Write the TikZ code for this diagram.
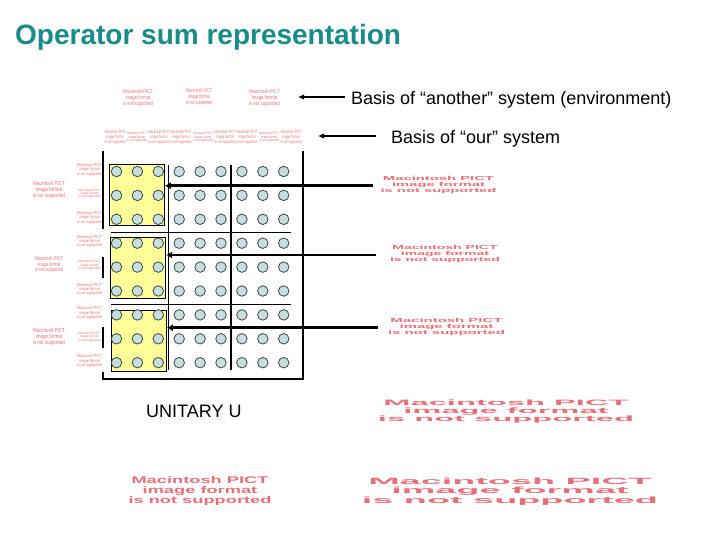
\documentclass[tikz,border=0pt]{standalone}
\usepackage{fontspec}
\setmainfont{Liberation Sans}
\usepackage{graphicx}
\usetikzlibrary{arrows.meta}
\definecolor{titleteal}{RGB}{24,140,138}
\definecolor{pictred}{RGB}{232,110,120}
\definecolor{dotfill}{RGB}{198,222,222}
\definecolor{dotline}{RGB}{60,72,72}
\definecolor{boxyellow}{RGB}{255,255,153}
\newcommand{\picttext}{\begin{tabular}{@{}c@{}}Macintosh PICT\\image format\\is not supported\end{tabular}}
\newcommand{\pictfit}[2]{\resizebox*{#1}{#2}{\picttext}}
\renewcommand{\arraystretch}{0.85}
\begin{document}
\begin{tikzpicture}[x=1pt,y=-1pt,
  pict/.style={inner sep=0pt, text=pictred, font=\bfseries},
  pictthin/.style={inner sep=0pt, text=pictred},
  dot/.style={circle, draw=dotline, fill=dotfill, line width=0.8pt, minimum size=10.5pt, inner sep=0pt},
  ybox/.style={draw=black, fill=boxyellow, line width=1pt, minimum width=55pt, minimum height=61pt, inner sep=0pt},
  gridline/.style={line width=1.05pt},
  bigarrow/.style={line width=2.7pt, -{Latex[length=6pt,width=7pt]}},
  basisarrow/.style={line width=1.6pt, -{Latex[length=6pt,width=5.5pt]}},
  basislabel/.style={font=\fontsize{18}{20}\selectfont, anchor=base west, inner sep=0pt}]
\useasboundingbox (0,0) rectangle (720,540);

% title
\node[anchor=base west, inner sep=0pt, text=titleteal, font=\bfseries\fontsize{28}{32}\selectfont] (title) at (15,45) {Operator sum representation};

% top placeholders (environment basis)
\node[pictthin] (pt1) at (138,98.5) {\pictfit{30pt}{17pt}};
\node[pictthin] (pt2) at (199,97.5) {\pictfit{26pt}{17pt}};
\node[pictthin] (pt3) at (264.5,98.5) {\pictfit{31pt}{17pt}};

% row of tiny placeholders (our basis)
\foreach \k in {0,...,8} {
  \pgfmathtruncatemacro{\m}{mod(\k,3)}
  \ifnum\m=1
    \node[pictthin] (pr-\k) at ({115+22*\k},137.5) {\pictfit{20pt}{11pt}};
  \else
    \node[pictthin] (pr-\k) at ({115+22*\k},137.5) {\pictfit{21pt}{14pt}};
  \fi
}

% labels and their arrows
\node[basislabel] (envlabel) at (351,104.5) {Basis of “another” system (environment)};
\node[basislabel] (ourlabel) at (391,143.5) {Basis of “our” system};
\coordinate (envtail) at (345,97);
\coordinate (envtip) at (298,97);
\coordinate (ourtail) at (376,136);
\coordinate (ourtip) at (318,136);
\draw[basisarrow] (envtail) -- (envtip);
\draw[basisarrow] (ourtail) -- (ourtip);

% left placeholders
\node[pictthin] (pl1) at (49,190) {\pictfit{32pt}{18pt}};
\node[pictthin] (pl2) at (49,265) {\pictfit{28pt}{17pt}};
\node[pictthin] (pl3) at (49,337) {\pictfit{32pt}{18pt}};
\foreach \r in {0,...,8} {
  \pgfmathtruncatemacro{\m}{mod(\r,3)}
  \ifnum\m=1
    \node[pictthin] (pc-\r) at (89.5,{170+23.9*\r}) {\pictfit{22pt}{10pt}};
  \else
    \node[pictthin] (pc-\r) at (89.5,{170+23.9*\r}) {\pictfit{25pt}{13pt}};
  \fi
}

% frame
\draw[gridline] (103,151) -- (103,229);
\draw[gridline] (103,257) -- (103,278);
\draw[gridline] (103,327) -- (103,348);
\draw[gridline] (103,372) -- (103,379) -- (303,379) -- (303,151);
\draw[gridline] (168.3,165) -- (168.3,370);
\draw[gridline] (231,165) -- (231,370);
\draw[gridline] (110.7,232.3) -- (290.7,232.3);
\draw[gridline] (110.7,304.3) -- (290.7,304.3);

% yellow blocks
\node[ybox] (yb1) at (136.8,194.7) {};
\node[ybox] (yb2) at (138.2,267.8) {};
\node[ybox] (yb3) at (138.8,341) {};

% dots
\foreach \r in {0,...,8} {
  \foreach \c in {0,...,8} {
    \node[dot] (d-\r-\c) at ({116.5+20.9*\c},{171.5+23.9*\r}) {};
  }
}

% arrows from right placeholders into blocks
\coordinate (a1) at (373,185.7);
\coordinate (a2) at (376,255);
\coordinate (a3) at (377.7,327.7);
\draw[bigarrow] (a1) -- (a1 -| yb1.east);
\draw[bigarrow] (a2) -- (a2 -| yb2.east);
\draw[bigarrow] (a3) -- (a3 -| yb3.east);

% right placeholders
\node[pict] (prt1) at (438.5,185) {\pictfit{116pt}{18pt}};
\node[pict] (prt2) at (445,254.5) {\pictfit{110pt}{18pt}};
\node[pict] (prt3) at (446.5,327.5) {\pictfit{117pt}{18pt}};
\node[pict] (pbig1) at (506,412) {\pictfit{256pt}{24pt}};
\node[pict] (pbig2) at (510,492) {\pictfit{296pt}{28pt}};
\node[pict] (pbl) at (200,491.5) {\pictfit{143pt}{30pt}};

% unitary label
\node[anchor=base west, inner sep=0pt, font=\fontsize{18}{20}\selectfont] (unitary) at (146,417) {UNITARY U};
\end{tikzpicture}
\end{document}
